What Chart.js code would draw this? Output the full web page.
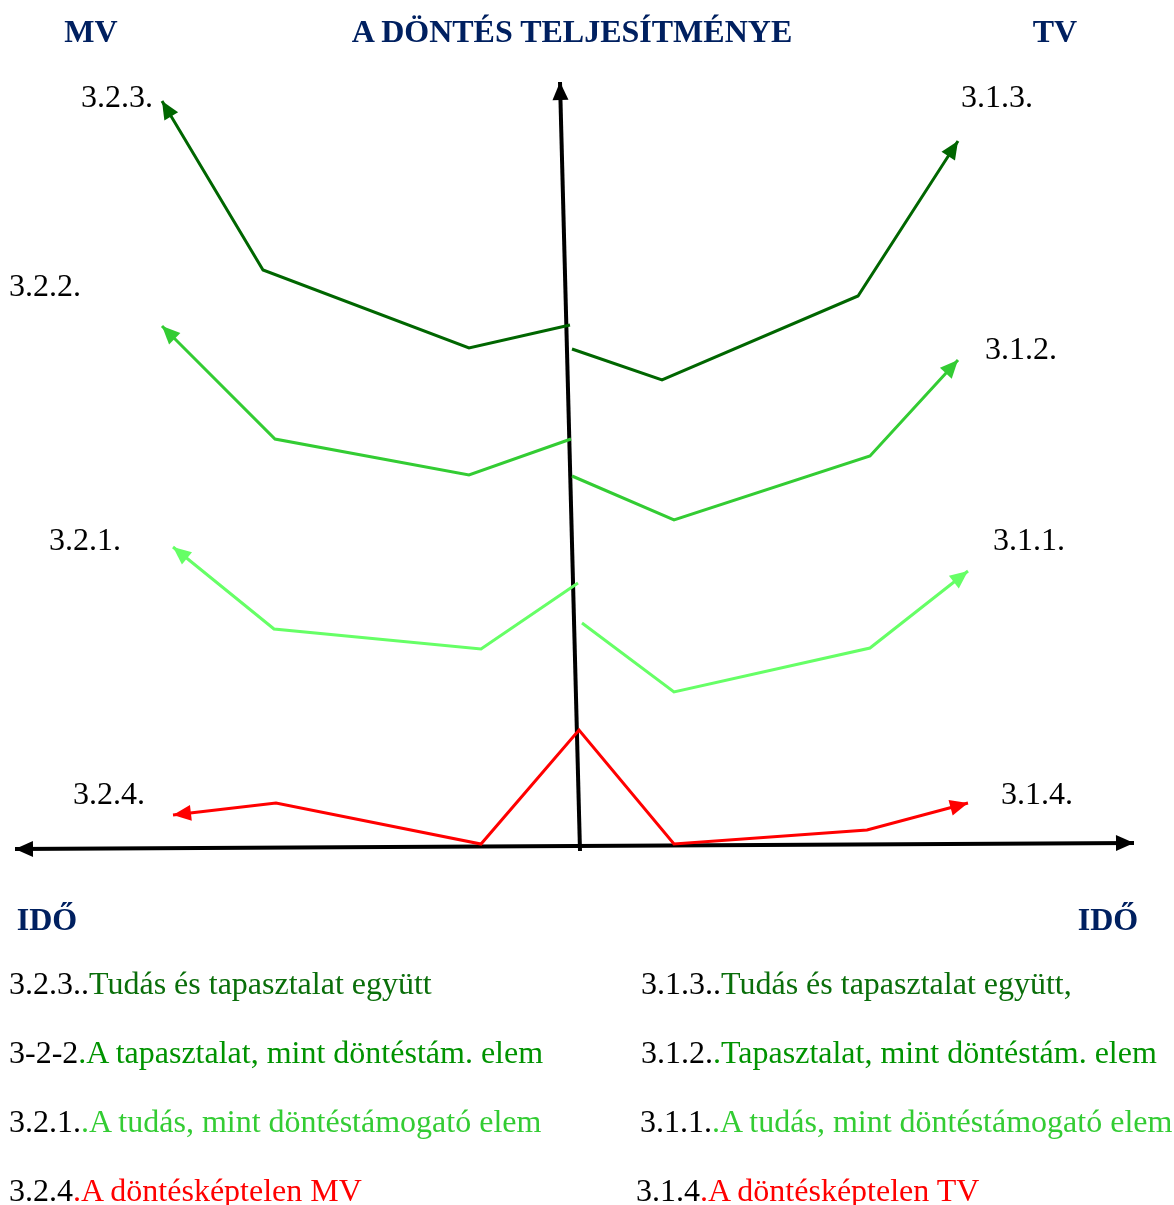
<!DOCTYPE html>
<html lang="hu">
<head>
<meta charset="utf-8">
<title>A döntés teljesítménye</title>
<script src="https://cdn.jsdelivr.net/npm/chart.js@4.4.1/dist/chart.umd.min.js"></script>
<style>
  body { margin: 0; background: #fff; }
  #wrap { position: relative; width: 1174px; height: 1205px; overflow: hidden; font-family: "Liberation Serif", "Times New Roman", serif; }
  #wrap canvas { position: absolute; left: 0; top: 0; }
  .lbl { position: absolute; white-space: nowrap; line-height: 1; font-size: 32px; color: #000; transform: translate(-50%, -50%); }
  .head { font-weight: bold; color: #002060; font-size: 32px; }
  .row { position: absolute; white-space: nowrap; line-height: 1; font-size: 32px; color: #000; transform: translate(0, -50%); }
  .c3 { color: #0a6e0a; }
  .c2 { color: #009300; }
  .c1 { color: #33cc33; }
  .c4 { color: #ff0000; }
</style>
</head>
<body>
<div id="wrap">
  <canvas id="diagram" width="1174" height="1205"></canvas>

  <div class="lbl head" style="left:91px; top:31px;">MV</div>
  <div class="lbl head" style="left:572px; top:31px;">A DÖNTÉS TELJESÍTMÉNYE</div>
  <div class="lbl head" style="left:1055px; top:31px;">TV</div>

  <div class="lbl" style="left:117px; top:96px;">3.2.3.</div>
  <div class="lbl" style="left:997px; top:96px;">3.1.3.</div>
  <div class="lbl" style="left:45px; top:285px;">3.2.2.</div>
  <div class="lbl" style="left:1021px; top:348px;">3.1.2.</div>
  <div class="lbl" style="left:85px; top:539px;">3.2.1.</div>
  <div class="lbl" style="left:1029px; top:539px;">3.1.1.</div>
  <div class="lbl" style="left:109px; top:793px;">3.2.4.</div>
  <div class="lbl" style="left:1037px; top:793px;">3.1.4.</div>

  <div class="lbl head" style="left:47px; top:919px;">IDŐ</div>
  <div class="lbl head" style="left:1108px; top:919px;">IDŐ</div>

  <div class="row" style="left:9px; top:983px;">3.2.3..<span class="c3">Tudás és tapasztalat együtt</span></div>
  <div class="row" style="left:9px; top:1052px;">3-2-2<span class="c2">.A tapasztalat, mint döntéstám. elem</span></div>
  <div class="row" style="left:9px; top:1121px;">3.2.1.<span class="c1">.A tudás, mint döntéstámogató elem</span></div>
  <div class="row" style="left:9px; top:1190px;">3.2.4<span class="c4">.A döntésképtelen MV</span></div>

  <div class="row" style="left:641px; top:983px;">3.1.3..<span class="c3">Tudás és tapasztalat együtt,</span></div>
  <div class="row" style="left:641px; top:1052px;">3.1.2.<span class="c2">.Tapasztalat, mint döntéstám. elem</span></div>
  <div class="row" style="left:640px; top:1121px;">3.1.1.<span class="c1">.A tudás, mint döntéstámogató elem</span></div>
  <div class="row" style="left:636px; top:1190px;">3.1.4<span class="c4">.A döntésképtelen TV</span></div>
</div>

<script>
// idő (x) és teljesítmény (y), az origó a függőleges tengely talppontja
const xMin = -5.8, xMax = 5.94;
const yMin = -3.59, yMax = 8.46;

// MV oldal (balra futó görbék, a tengelytől kifelé)
const mv323X = [-0.10, -1.11, -3.17, -4.18];
const mv323Y = [5.21, 4.98, 5.76, 7.45];
const mv322X = [-0.09, -1.11, -3.05, -4.18];
const mv322Y = [4.07, 3.71, 4.07, 5.20];
const mv321X = [-0.02, -0.99, -3.06, -4.07];
const mv321Y = [2.63, 1.97, 2.17, 2.99];

// TV oldal
const tv313X = [-0.08, 0.82, 2.78, 3.78];
const tv313Y = [4.97, 4.66, 5.50, 7.05];
const tv312X = [-0.08, 0.94, 2.90, 3.78];
const tv312Y = [3.70, 3.26, 3.90, 4.86];
const tv311X = [0.02, 0.94, 2.90, 3.88];
const tv311Y = [2.23, 1.54, 1.98, 2.75];

// döntésképtelen (3.2.4 -> 3.1.4), balról jobbra
const keptelenX = [-4.07, -3.04, -0.99, -0.01, 0.94, 2.87, 3.88];
const keptelenY = [0.31, 0.43, 0.02, 1.16, 0.02, 0.16, 0.43];

// tengelyek
const idoTengelyX = [-5.65, 5.54];
const idoTengelyY = [-0.03, 0.03];
const teljTengelyX = [0.00, -0.20];
const teljTengelyY = [-0.05, 7.64];

function pts(xs, ys) {
  return xs.map((x, i) => ({ x: x, y: ys[i] }));
}

function series(xs, ys, color, width, opts) {
  return Object.assign({
    data: pts(xs, ys),
    borderColor: color,
    backgroundColor: color,
    borderWidth: width,
    pointRadius: 0,
    fill: false,
    tension: 0,
    clip: false,
    arrowEnd: true,
    arrowStart: false,
    headLen: 18,
    headHalf: 8
  }, opts || {});
}

function drawHead(ctx, from, to, color, len, half) {
  const ang = Math.atan2(to.y - from.y, to.x - from.x);
  ctx.save();
  ctx.translate(to.x, to.y);
  ctx.rotate(ang);
  ctx.fillStyle = color;
  ctx.beginPath();
  ctx.moveTo(0, 0);
  ctx.lineTo(-len, -half);
  ctx.lineTo(-len, half);
  ctx.closePath();
  ctx.fill();
  ctx.restore();
}

const arrowPlugin = {
  id: 'arrows',
  afterDatasetsDraw(chart) {
    const ctx = chart.ctx;
    chart.data.datasets.forEach((ds, i) => {
      const p = chart.getDatasetMeta(i).data;
      if (p.length < 2) return;
      if (ds.arrowEnd) drawHead(ctx, p[p.length - 2], p[p.length - 1], ds.borderColor, ds.headLen, ds.headHalf);
      if (ds.arrowStart) drawHead(ctx, p[1], p[0], ds.borderColor, ds.headLen, ds.headHalf);
    });
  }
};

const dark = "#006600", mid = "#33cc33", light = "#66ff66", red = "#ff0000";

new Chart(document.getElementById("diagram"), {
  type: "line",
  data: {
    datasets: [
      series(keptelenX, keptelenY, red, 3, { arrowStart: true }),
      series(mv323X, mv323Y, dark, 3),
      series(tv313X, tv313Y, dark, 3),
      series(mv322X, mv322Y, mid, 3),
      series(tv312X, tv312Y, mid, 3),
      series(mv321X, mv321Y, light, 3),
      series(tv311X, tv311Y, light, 3),
      series(idoTengelyX, idoTengelyY, "#000", 4, { arrowStart: true, headLen: 18, headHalf: 8 }),
      series(teljTengelyX, teljTengelyY, "#000", 4, { headLen: 18, headHalf: 8 })
    ]
  },
  options: {
    responsive: false,
    animation: false,
    events: [],
    layout: { padding: 0 },
    plugins: { legend: { display: false }, tooltip: { enabled: false } },
    scales: {
      x: { type: "linear", min: xMin, max: xMax, display: false },
      y: { type: "linear", min: yMin, max: yMax, display: false }
    }
  },
  plugins: [arrowPlugin]
});
</script>
</body>
</html>
